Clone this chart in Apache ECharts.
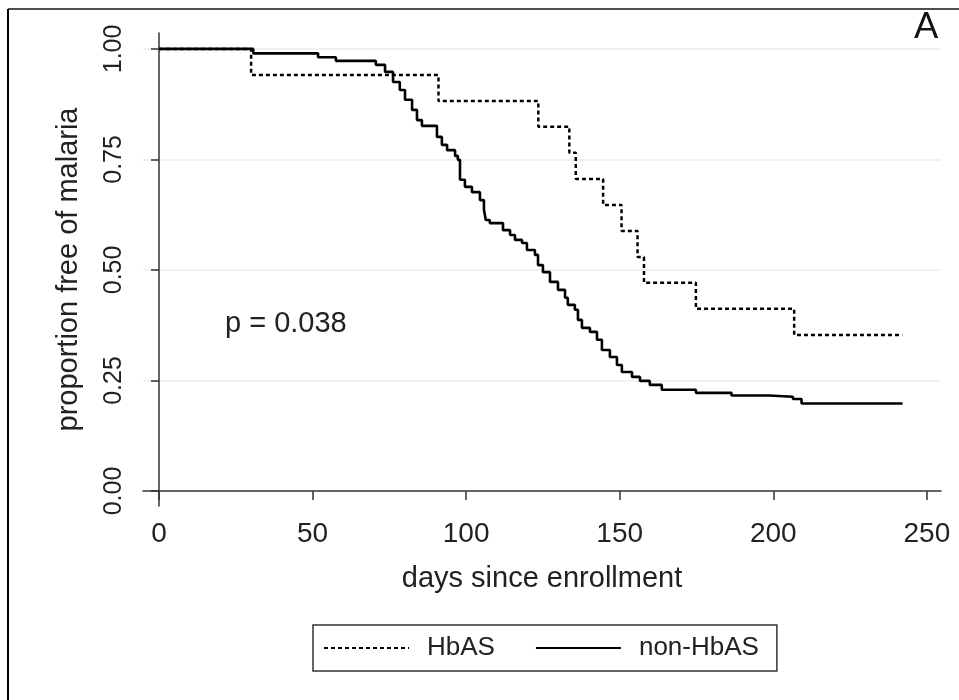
<!DOCTYPE html>
<html>
<head>
<meta charset="utf-8">
<script src="https://cdn.jsdelivr.net/npm/echarts@6/dist/echarts.min.js"></script>
<style>
  html, body { margin: 0; padding: 0; background: #fff; }
  #chart { width: 959px; height: 700px; }
</style>
</head>
<body>
<div id="chart"></div>
<script>
// Kaplan-Meier curves (day at which the step happens, new level)
const hbasDays = [0, 30, 91, 123.5, 133.6, 135.7, 144.6, 150.6, 155.8, 157.9, 174.8, 206.8, 242];
const hbasSurv = [1, 0.941, 0.882, 0.824, 0.765, 0.706, 0.647, 0.588, 0.529, 0.471, 0.412, 0.353, 0.353];

const nonDays = [0, 30.7, 51.8, 57.6, 70.6, 73.6, 76.2, 78.4, 80.1, 82.4, 84.0, 85.6, 90.5, 92.1, 93.8,
  96.4, 97.3, 98.0, 99.6, 101.9, 104.5, 105.8, 106.4, 107.7, 112.0, 114.3, 115.9, 118.2, 119.8,
  122.4, 123.4, 125.0, 127.3, 129.9, 132.2, 133.1, 135.4, 136.4, 137.7, 140.3, 142.6, 144.2,
  146.8, 149.1, 150.7, 154.0, 156.6, 159.8, 163.7, 174.8, 186.4, 198.6, 206.4, 209.2, 242.1];
const nonSurv = [1, 0.990, 0.981, 0.973, 0.964, 0.948, 0.925, 0.907, 0.885, 0.862, 0.839, 0.826, 0.801, 0.783, 0.771,
  0.758, 0.749, 0.704, 0.688, 0.676, 0.658, 0.636, 0.613, 0.606, 0.590, 0.579, 0.568, 0.561, 0.545,
  0.534, 0.511, 0.495, 0.473, 0.455, 0.437, 0.421, 0.410, 0.387, 0.369, 0.360, 0.342, 0.319,
  0.303, 0.285, 0.269, 0.258, 0.249, 0.240, 0.229, 0.222, 0.216, 0.213, 0.208, 0.198, 0.198];

const xTicks = [0, 50, 100, 150, 200, 250];
const yTicks = [0, 0.25, 0.5, 0.75, 1];
const gridValues = [0.25, 0.5, 0.75, 1];

const font = 'Liberation Sans, Arial, Helvetica, sans-serif';
const ink = '#222';

let chart = echarts.init(document.getElementById('chart'));

const pairs = (xs, ys) => xs.map((x, i) => [x, ys[i]]);

let option = {
    animation: false,
    backgroundColor: '#fff',
    grid: { left: 143, right: 18, top: 33, bottom: 194 },
    xAxis: {
        type: 'value',
        min: -5.2,
        max: 254.6,
        name: 'days since enrollment',
        nameLocation: 'middle',
        nameGap: 58,
        nameTextStyle: { fontFamily: font, fontSize: 29, color: ink },
        axisLine: { lineStyle: { color: '#333', width: 1.5 } },
        axisTick: { customValues: xTicks, length: 9, lineStyle: { color: '#333', width: 1.5 } },
        axisLabel: { customValues: xTicks, fontFamily: font, fontSize: 28, color: ink, margin: 14 },
        splitLine: { show: false }
    },
    yAxis: {
        type: 'value',
        min: -0.034,
        max: 1.036,
        name: 'proportion free of malaria',
        nameLocation: 'middle',
        nameGap: 60,
        nameTextStyle: { fontFamily: font, fontSize: 29, color: ink },
        axisLine: { show: true, lineStyle: { color: '#333', width: 1.5 } },
        axisTick: { show: true, customValues: yTicks, length: 8, lineStyle: { color: '#333', width: 1.5 } },
        axisLabel: {
            customValues: yTicks, rotate: 90, margin: 16,
            fontFamily: font, fontSize: 25, color: ink,
            formatter: v => v.toFixed(2)
        },
        splitLine: { show: false }
    },
    legend: {
        left: 313,
        top: 625,
        orient: 'horizontal',
        borderColor: '#333',
        borderWidth: 1.5,
        padding: [10, 18, 10, 10],
        itemWidth: 85,
        itemHeight: 12,
        itemGap: 40,
        itemStyle: { opacity: 0 },
        textStyle: { fontFamily: font, fontSize: 26, color: ink, padding: [0, 0, 0, 13] },
        data: ['HbAS', 'non-HbAS']
    },
    series: [
        {
            name: 'HbAS',
            type: 'line',
            step: 'end',
            symbol: 'none',
            data: pairs(hbasDays, hbasSurv),
            lineStyle: { color: '#000', width: 2.5, type: [4, 3] },
            itemStyle: { color: '#000' },
            markLine: {
                silent: true,
                symbol: 'none',
                label: { show: false },
                lineStyle: { color: '#e6eff0', width: 1.5, type: 'solid' },
                data: gridValues.map(v => ({ yAxis: v })),
                z: 0
            },
            z: 3
        },
        {
            name: 'non-HbAS',
            type: 'line',
            step: 'end',
            symbol: 'none',
            data: pairs(nonDays, nonSurv),
            lineStyle: { color: '#000', width: 2.6, type: 'solid' },
            itemStyle: { color: '#000' },
            z: 4
        }
    ],
    graphic: [
        { type: 'line', shape: { x1: 8, y1: 9, x2: 959, y2: 9 }, style: { stroke: '#4a4f4f', lineWidth: 2 } },
        { type: 'line', shape: { x1: 8, y1: 9, x2: 8, y2: 700 }, style: { stroke: '#000', lineWidth: 2 } },
        { type: 'text', left: 914, top: 8, style: { text: 'A', font: '400 36px Lato, "Open Sans", ' + font, fill: '#111' } },
        { type: 'text', left: 225, top: 309, style: { text: 'p = 0.038', font: '29px ' + font, fill: ink } }
    ]
};

chart.setOption(option);
</script>
</body>
</html>
